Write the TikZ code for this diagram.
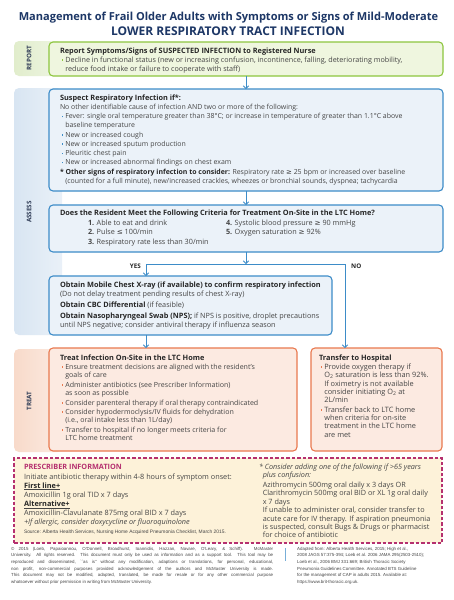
\documentclass[tikz,border=0pt]{standalone}
\usepackage{fontspec}
\setmainfont{Open Sans}
\newfontfamily\symf{DejaVu Sans}
\newfontfamily\footf{Liberation Sans}
\usetikzlibrary{arrows.meta,calc}
\definecolor{navy}{HTML}{1D3766}
\definecolor{txt}{HTML}{454545}
\definecolor{hdr}{HTML}{262626}
\definecolor{grn}{HTML}{8DC63F}
\definecolor{grnfill}{HTML}{EFF6DF}
\definecolor{grnside}{HTML}{E1EDCC}
\definecolor{blu}{HTML}{3D8CC8}
\definecolor{blufill}{HTML}{EBF2F9}
\definecolor{bluside}{HTML}{D8E5F2}
\definecolor{org}{HTML}{E9794F}
\definecolor{orgfill}{HTML}{FCEAE1}
\definecolor{orgside}{HTML}{F8DACA}
\definecolor{mag}{HTML}{B5306F}
\definecolor{yel}{HTML}{FDF2D9}
\definecolor{sidetxt}{HTML}{2E3B55}
\newcommand{\sge}{{\symf ≥}}
\newcommand{\sle}{{\symf ≤}}
\newcommand{\bl}[1]{\hspace*{1.5pt}\textcolor{#1}{\rule[1.5pt]{1.6pt}{1.6pt}}\hspace{2.2pt}}
\newcommand{\ct}{\hspace*{5.3pt}}
\newcommand{\hd}[1]{{\fontsize{7.35}{9}\selectfont\textcolor{hdr}{\textbf{#1}}}}
\begin{document}
\begin{tikzpicture}[x=1pt,y=-1pt,
  box/.style={draw=#1, line width=1.1pt, rounded corners=4pt, anchor=north west, inner sep=0pt, outer sep=0pt},
  tx/.style={anchor=north west, inner sep=0pt, outer sep=0pt, align=left, text=txt, font=\fontsize{7.25}{9.2}\selectfont},
  lab/.style={rotate=90, font=\fontsize{6.3}{7}\bfseries\selectfont, text=sidetxt, inner sep=0pt},
  ttl/.style={font=\fontsize{11.05}{13}\bfseries\selectfont, text=navy, inner sep=0pt},
  arr/.style={draw=blu, line width=0.9pt, -{Straight Barb[length=2.6pt,width=5.5pt]}},
  arrs/.style={draw=blu, line width=0.9pt, {Straight Barb[length=2.6pt,width=5.5pt]}-{Straight Barb[length=2.6pt,width=5.5pt]}},
]
\useasboundingbox (0,0) rectangle (454,600);
\fill[white] (0,0) rectangle (454,600);

% title
\node[ttl] (t1) at (228.5,18) {Management of Frail Older Adults with Symptoms or Signs of Mild-Moderate};
\node[ttl, font=\fontsize{12}{13}\bfseries\selectfont] (t2) at (228,31) {LOWER RESPIRATORY TRACT INFECTION};

% sidebars
\shade[left color=grnside, right color=grnside!55!white, rounded corners=5pt] (14,41) rectangle (62,76);
\shade[left color=bluside, right color=bluside!55!white, rounded corners=5pt] (14,88) rectangle (62,335);
\shade[left color=orgside, right color=orgside!55!white, rounded corners=5pt] (14,349) rectangle (62,452);
\node[lab] (lrep) at (29,58) {REPORT};
\node[lab] (lass) at (29,212) {ASSESS};
\node[lab] (ltrt) at (29,401) {TREAT};

% boxes
\node[box=grn, fill=grnfill, minimum width=394pt, minimum height=34pt] (report) at (49,42) {};
\node[box=blu, fill=blufill, minimum width=394pt, minimum height=102pt] (suspect) at (49,89) {};
\node[box=blu, fill=blufill, minimum width=394pt, minimum height=47pt] (criteria) at (49,205) {};
\node[box=blu, fill=blufill, minimum width=283pt, minimum height=59pt] (obtain) at (49,276) {};
\node[box=org, fill=orgfill, minimum width=248pt, minimum height=103pt] (treat) at (49,348) {};
\node[box=org, fill=orgfill, minimum width=131pt, minimum height=103pt] (transfer) at (311,348) {};
\node[draw=mag, fill=yel, line width=1.3pt, dash pattern=on 3.5pt off 2pt, anchor=north west, inner sep=0pt, outer sep=0pt, minimum width=428pt, minimum height=85pt] (presc) at (14,458) {};

% texts
\node[tx, font=\fontsize{7.2}{9}\selectfont] (treport) at (60,47.6) {\hd{Report Symptoms/Signs of SUSPECTED INFECTION to Registered Nurse}\\
\bl{grn}Decline in functional status (new or increasing confusion, incontinence, falling, deteriorating mobility,\\
\ct reduce food intake or failure to cooperate with staff)};

\node[tx, font=\fontsize{6.95}{9.22}\selectfont] (tsuspect) at (60,94.7) {\hd{Suspect Respiratory Infection if*:}\\
No other identifiable cause of infection AND two or more of the following:\\
\bl{blu}Fever: single oral temperature greater than 38°C; or increase in temperature of greater than 1.1°C above\\
\ct baseline temperature\\
\bl{blu}New or increased cough\\
\bl{blu}New or increased sputum production\\
\bl{blu}Pleuritic chest pain\\
\bl{blu}New or increased abnormal findings on chest exam\\
{\fontsize{6.95}{9}\selectfont\textcolor{hdr}{\textbf{* Other signs of respiratory infection to consider:}}} Respiratory rate \sge{} 25 bpm or increased over baseline\\
\ct (counted for a full minute), new/increased crackles, wheezes or bronchial sounds, dyspnea; tachycardia};

\node[tx] (tcrit) at (60,209.6) {\hd{Does the Resident Meet the Following Criteria for Treatment On-Site in the LTC Home?}};
\node[tx, font=\fontsize{7.25}{9.5}\selectfont] (tcrit1) at (88,219.6) {\textbf{1.} Able to eat and drink\\
\textbf{2.} Pulse \sle{} 100/min\\
\textbf{3.} Respiratory rate less than 30/min};
\node[tx, font=\fontsize{7.25}{9.5}\selectfont] (tcrit2) at (226,219.6) {\textbf{4.} Systolic blood pressure \sge{} 90 mmHg\\
\textbf{5.} Oxygen saturation \sge{} 92\%};

\node[tx, font=\fontsize{7.25}{9}\selectfont] (tobtain) at (60,281.6) {\hd{Obtain Mobile Chest X-ray (if available) to confirm respiratory infection}\\
(Do not delay treatment pending results of chest X-ray)\\[2pt]
\hd{Obtain CBC Differential} (if feasible)\\[2.5pt]
\hd{Obtain Nasopharyngeal Swab (NPS);} if NPS is positive, droplet precautions\\
until NPS negative; consider antiviral therapy if influenza season};

\node[tx, font=\fontsize{7.05}{8.3}\selectfont] (ttreat) at (60,354.6) {\hd{Treat Infection On-Site in the LTC Home}\\[0.7pt]
\bl{org}Ensure treatment decisions are aligned with the resident's\\
\ct goals of care\\[1.5pt]
\bl{org}Administer antibiotics (see Prescriber Information)\\
\ct as soon as possible\\[1.5pt]
\bl{org}Consider parenteral therapy if oral therapy contraindicated\\[0.7pt]
\bl{org}Consider hypodermoclysis/IV fluids for dehydration\\
\ct (i.e., oral intake less than 1L/day)\\[1.5pt]
\bl{org}Transfer to hospital if no longer meets criteria for\\
\ct LTC home treatment};

\node[tx, font=\fontsize{7.35}{8.4}\selectfont] (ttransfer) at (319,354.6) {\hd{Transfer to Hospital}\\[0.6pt]
\bl{org}Provide oxygen therapy if\\
\ct O\textsubscript{2} saturation is less than 92\%.\\
\ct If oximetry is not available\\
\ct consider initiating O\textsubscript{2} at\\
\ct 2L/min\\[0.8pt]
\bl{org}Transfer back to LTC home\\
\ct when criteria for on-site\\
\ct treatment in the LTC home\\
\ct are met};

\node[tx, font=\fontsize{7.3}{9.1}\selectfont] (tpresc) at (24,464.6) {\textcolor{mag}{\textbf{PRESCRIBER INFORMATION}}\\
Initiate antibiotic therapy within 4-8 hours of symptom onset:\\
\underline{\hd{First line+}}\\
Amoxicillin 1g oral TID x 7 days\\
\underline{\hd{Alternative+}}\\
Amoxicillin-Clavulanate 875mg oral BID x 7 days\\
\textit{+If allergic, consider doxycycline or fluoroquinolone}};
\node[tx, font=\footf\fontsize{4.9}{6}\selectfont] (tsource) at (24,529.5) {Source: Alberta Health Services, Nursing Home Acquired Pneumonia Checklist, March 2015.};

\node[tx, font=\fontsize{7.25}{8.4}\selectfont] (tpresc2) at (259,463.6) {\textit{* Consider adding one of the following if >65 years}\\
\hspace*{3.8pt}\textit{plus confusion:}\\[1.5pt]
\hspace*{3.8pt}Azithromycin 500mg oral daily x 3 days OR\\
\hspace*{3.8pt}Clarithromycin 500mg oral BID or XL 1g oral daily\\
\hspace*{3.8pt}x 7 days\\
\hspace*{3.8pt}If unable to administer oral, consider transfer to\\
\hspace*{3.8pt}acute care for IV therapy. If aspiration pneumonia\\
\hspace*{3.8pt}is suspected, consult Bugs \& Drugs or pharmacist\\
\hspace*{3.8pt}for choice of antibiotic};

% footer
\node[anchor=north west, inner sep=0pt, text width=262pt, align=justify, text=txt, font=\footf\fontsize{4.4}{6.6}\selectfont] (foot1) at (11,547) {© 2015 (Loeb, Papaioannou, O'Donnell, Broadhurst, Ioannidis, Hazzan, Navare, O'Leary, \& Schiff). McMaster\linebreak
University. All rights reserved. This document must only be used as information and as a support tool. This tool may be\linebreak
reproduced and disseminated, ``as is'' without any modification, adaptions or translations, for personal, educational,\linebreak
non profit, non-commercial purposes provided acknowledgement of the authors and McMaster University is made.\linebreak
This document may not be modified, adapted, translated, be made for resale or for any other commercial purpose\linebreak
whatsoever without prior permission in writing from McMaster University.};
\node[anchor=north west, inner sep=0pt, align=left, text=txt, font=\footf\fontsize{4.4}{6.6}\selectfont] (foot2) at (297,547) {Adapted from: Alberta Health Services, 2015; High et al.,\\
2008 JAGS 57:375-394; Loeb et al. 2006 JAMA 295(2503-2510);\\
Loeb et al., 2006 BMJ 331:669; British Thoracic Society\\
Pneumonia Guidelines Committee. Annotated BTS Guideline\\
for the management of CAP in adults 2015. Available at:\\
https://www.brit-thoracic.org.uk.};
\coordinate (sepa) at (285,548);
\coordinate (sepb) at (285,561);
\draw[blu!70, line width=0.5pt] (sepa) -- (sepb);

% connectors
\coordinate (yesc) at (146,264);
\coordinate (noc) at (345,264);
\draw[arr] (report.south) -- (suspect.north);
\draw[arr] (suspect.south) -- (criteria.north);
\draw[arr] (criteria.south) -- (criteria.south |- yesc);
\draw[arrs] (yesc |- obtain.north) -- (yesc) -- (noc) -- (noc |- transfer.north);
\draw[arr] (obtain.south -| yesc) -- (treat.north -| yesc);
\node[anchor=east, inner sep=0pt, font=\fontsize{6.3}{7}\bfseries\selectfont, text=hdr] (yes) at (141,266) {YES};
\node[anchor=west, inner sep=0pt, font=\fontsize{6.3}{7}\bfseries\selectfont, text=hdr] (no) at (351,266) {NO};
\end{tikzpicture}
\end{document}
